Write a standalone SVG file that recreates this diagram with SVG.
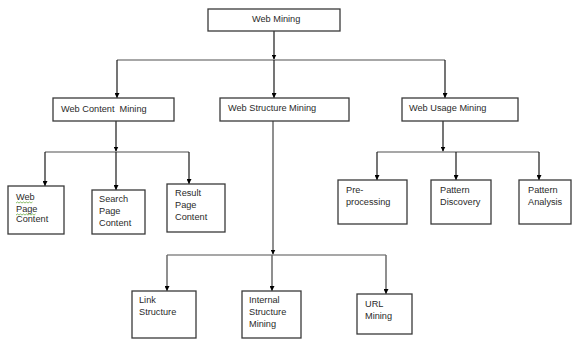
<svg xmlns="http://www.w3.org/2000/svg" width="572" height="339" viewBox="0 0 572 339">
<style>
.box{fill:#fff;stroke:#3a3a3a;stroke-width:1.3}
.t{font-family:"Liberation Sans",Arial,sans-serif;font-size:9.2px;fill:#2a2a2a}
.bar{fill:none;stroke:#8a8a8a;stroke-width:1.5}
.arr{fill:none;stroke:#1a1a1a;stroke-width:1.2;marker-end:url(#ah)}
.arrg{fill:none;stroke:#6a6a6a;stroke-width:1.5;marker-end:url(#ah)}
.sq{fill:none;stroke:#5aa02c;stroke-width:0.7}
</style>
<defs>
<marker id="ah" viewBox="0 0 10 10" refX="10" refY="5" markerWidth="5" markerHeight="5" markerUnits="userSpaceOnUse" orient="auto">
<path d="M0,0 L10,5 L0,10 z" fill="#000"/>
</marker>
</defs>
<rect width="572" height="339" fill="#fff"/>
<g id="connectors">
<path class="arr" d="M274,31 V59.5"/>
<path class="bar" d="M117,60 H445"/>
<path class="arr" d="M117,60 V98"/>
<path class="arr" d="M274,60 V98"/>
<path class="arr" d="M445,60 V98"/>
<path class="arr" d="M116,121 V151.5"/>
<path class="bar" d="M45,152 H189"/>
<path class="arr" d="M45,152 V186"/>
<path class="arr" d="M116,152 V190"/>
<path class="arr" d="M189,152 V184"/>
<path class="arr" d="M443,121 V151.5"/>
<path class="bar" d="M377,152 H539"/>
<path class="arr" d="M377,152 V180"/>
<path class="arr" d="M456,152 V180"/>
<path class="arr" d="M539,152 V180"/>
<path class="arrg" d="M273,121 V254.5"/>
<path class="bar" d="M167,255 H386"/>
<path class="arrg" d="M167,255 V291"/>
<path class="arrg" d="M272,255 V291"/>
<path class="arrg" d="M386,255 V294"/>
</g>
<g id="web-mining"><rect class="box" x="208" y="9" width="132" height="22"/><text class="t" x="252" y="22">Web Mining</text></g>
<g id="web-content-mining"><rect class="box" x="53" y="98" width="121" height="23"/><text class="t" x="61" y="112" xml:space="preserve">Web Content  Mining</text></g>
<g id="web-structure-mining"><rect class="box" x="220" y="98" width="129" height="23"/><text class="t" x="228" y="111">Web Structure Mining</text></g>
<g id="web-usage-mining"><rect class="box" x="402" y="98" width="116" height="23"/><text class="t" x="409" y="111">Web Usage Mining</text></g>
<g id="web-page-content"><rect class="box" x="8" y="186" width="56" height="48"/>
<text class="t" x="16" y="200">Web</text><path class="sq" d="M16,203 l1.5,-1 l1.5,1 l1.5,-1 l1.5,1 l1.5,-1 l1.5,1 l1.5,-1 l1.5,1 l1.5,-1 l1.5,1 l1.5,-1"/>
<text class="t" x="16" y="212">Page</text><path class="sq" d="M16,215 l1.5,-1 l1.5,1 l1.5,-1 l1.5,1 l1.5,-1 l1.5,1 l1.5,-1 l1.5,1 l1.5,-1 l1.5,1 l1.5,-1 l1.5,1 l1.5,-1"/>
<text class="t" x="16" y="222">Content</text></g>
<g id="search-page-content"><rect class="box" x="92" y="190" width="53" height="44"/><text class="t" x="99" y="202">Search</text><text class="t" x="99" y="214">Page</text><text class="t" x="99" y="226">Content</text></g>
<g id="result-page-content"><rect class="box" x="167" y="184" width="58" height="48"/><text class="t" x="175" y="196">Result</text><text class="t" x="175" y="208">Page</text><text class="t" x="175" y="220">Content</text></g>
<g id="pre-processing"><rect class="box" x="338" y="180" width="69" height="44"/><text class="t" x="346" y="193">Pre-</text><text class="t" x="346" y="205">processing</text></g>
<g id="pattern-discovery"><rect class="box" x="431" y="180" width="60" height="44"/><text class="t" x="440" y="193">Pattern</text><text class="t" x="440" y="205">Discovery</text></g>
<g id="pattern-analysis"><rect class="box" x="519" y="180" width="52" height="44"/><text class="t" x="528" y="193">Pattern</text><text class="t" x="528" y="205">Analysis</text></g>
<g id="link-structure"><rect class="box" x="132" y="291" width="64" height="47"/><text class="t" x="139" y="303">Link</text><text class="t" x="139" y="315">Structure</text></g>
<g id="internal-structure-mining"><rect class="box" x="242" y="291" width="59" height="47"/><text class="t" x="249" y="303">Internal</text><text class="t" x="249" y="315">Structure</text><text class="t" x="249" y="327">Mining</text></g>
<g id="url-mining"><rect class="box" x="357" y="294" width="55" height="40"/><text class="t" x="365" y="307">URL</text><text class="t" x="365" y="319">Mining</text></g>
</svg>
